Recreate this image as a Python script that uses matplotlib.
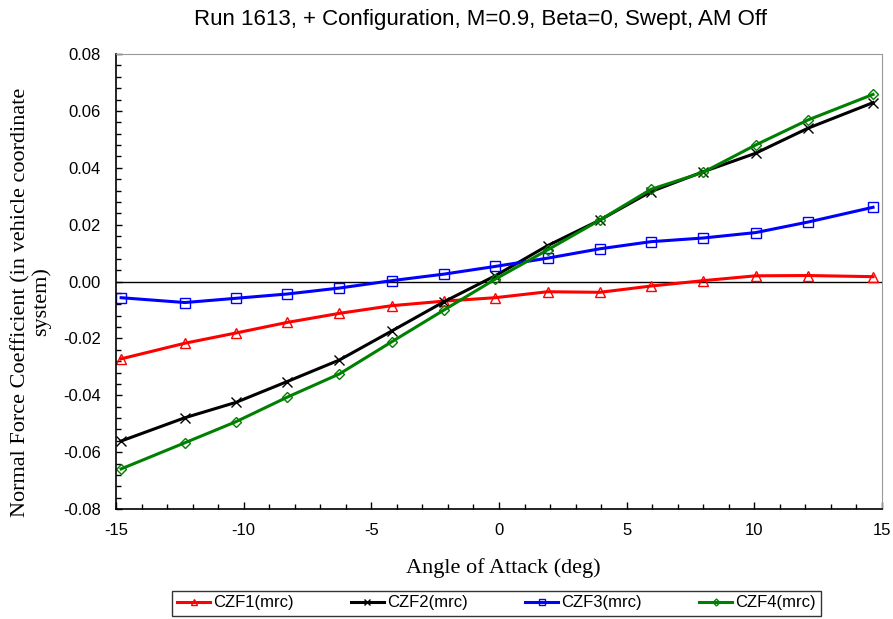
import matplotlib
matplotlib.use("Agg")
import matplotlib.pyplot as plt
from matplotlib.ticker import MultipleLocator, FuncFormatter

alpha = [-14.8, -12.3, -10.3, -8.3, -6.25, -4.2, -2.15, -0.15, 1.9, 3.95, 5.95, 8.0, 10.05, 12.1, 14.65]
czf1 = [-0.0272, -0.0217, -0.0181, -0.0144, -0.0112, -0.0085, -0.0069, -0.0057, -0.0036, -0.0038, -0.0016, 0.0003, 0.0020, 0.0021, 0.0017]
czf2 = [-0.0561, -0.0479, -0.0425, -0.0352, -0.0276, -0.0174, -0.0071, 0.0020, 0.0126, 0.0216, 0.0316, 0.0386, 0.0451, 0.0539, 0.0629]
czf3 = [-0.0057, -0.0074, -0.0059, -0.0044, -0.0023, 0.0003, 0.0026, 0.0053, 0.0082, 0.0115, 0.0140, 0.0153, 0.0172, 0.0209, 0.0261]
czf4 = [-0.0659, -0.0567, -0.0493, -0.0407, -0.0325, -0.0212, -0.0100, 0.0008, 0.0111, 0.0216, 0.0324, 0.0384, 0.0480, 0.0568, 0.0658]
labels = ["CZF1(mrc)", "CZF2(mrc)", "CZF3(mrc)", "CZF4(mrc)"]

fig = plt.figure(figsize=(8.93, 6.19), dpi=100)
ax = fig.add_axes([116/893, 1-509/619, (882-116)/893, (509-54)/619])

sans = "Liberation Sans"
serif = "Liberation Serif"

styles = [
    dict(color="red", marker="^", mfc="none", mec="red"),
    dict(color="black", marker="x", mec="black"),
    dict(color="blue", marker="s", mfc="none", mec="blue"),
    dict(color="green", marker="D", mfc="none", mec="green", ms=5),
]
series = [czf1, czf2, czf3, czf4]
for ys, lab, st in zip(series, labels, styles):
    kw = dict(lw=2.2, ms=6.5, mew=1.0)
    kw.update(st)
    ax.plot(alpha, ys, label=lab, **kw)

ax.axhline(0, color="black", lw=1.0, zorder=1)

ax.set_xlim(-15, 15)
ax.set_ylim(-0.08, 0.08)
ax.xaxis.set_major_locator(MultipleLocator(5))
ax.xaxis.set_minor_locator(MultipleLocator(1))
ax.yaxis.set_major_locator(MultipleLocator(0.02))
ax.yaxis.set_minor_locator(MultipleLocator(0.004))
ax.yaxis.set_major_formatter(FuncFormatter(lambda v, p: f"{v:.2f}"))
ax.xaxis.set_major_formatter(FuncFormatter(lambda v, p: f"{v:g}"))

ax.tick_params(axis="both", which="major", direction="in", length=5, width=1, labelsize=12)
ax.tick_params(axis="both", which="minor", direction="in", length=3.5, width=1)
ax.tick_params(axis="y", which="major", length=4, pad=11)
ax.tick_params(axis="x", which="major", pad=10)
for lab in ax.get_xticklabels() + ax.get_yticklabels():
    lab.set_fontfamily(sans)

for s in ["top", "right"]:
    ax.spines[s].set_color("#999999")
for s in ["left", "bottom"]:
    ax.spines[s].set_color("black")
    ax.spines[s].set_linewidth(1.2)

fig.text(480/893, 1 - 20/619, "Run 1613, + Configuration, M=0.9, Beta=0, Swept, AM Off",
         ha="center", va="center", fontsize=16, family=sans)
ax.set_xlabel("Angle of Attack (deg)", fontsize=16, family=serif)
ax.xaxis.set_label_coords((503-116)/766, (509-568)/455)
ax.xaxis.label.set_va("center")
ax.set_ylabel("Normal Force Coefficient (in vehicle coordinate\nsystem)", fontsize=16,
              family=serif, linespacing=1.1)
ax.yaxis.set_label_coords((31-116)/766, (509-302)/455)
ax.yaxis.label.set_va("center")

leg = fig.legend(loc="center", bbox_to_anchor=((168+825)/2/893, 1 - 603/619), ncol=4,
                 prop=dict(family=sans, size=12), frameon=True, fancybox=False,
                 edgecolor="black", handlelength=2.0, columnspacing=3.4, borderpad=0.3,
                 handletextpad=0.2, markerscale=0.7, borderaxespad=0.0)
leg.get_frame().set_linewidth(1.0)

fig.savefig("out.png", dpi=100)
